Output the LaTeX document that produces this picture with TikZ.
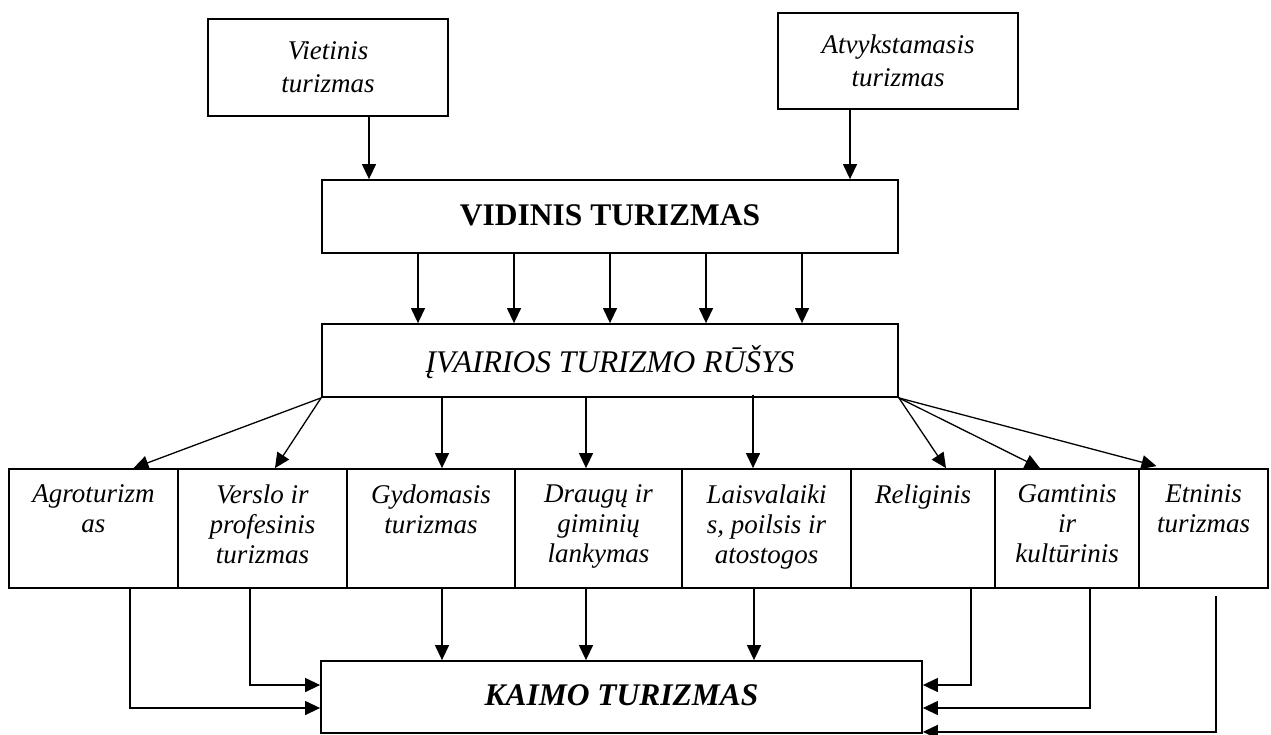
\documentclass[tikz,border=0pt]{standalone}
\usepackage{fontspec}
\setmainfont{Liberation Serif}
\usetikzlibrary{arrows.meta}
\tikzset{
  box/.style={draw,line width=1.8pt,inner sep=0pt},
  cell/.style={box,minimum height=119pt},
  celltext/.style={anchor=north,align=center,inner sep=0pt,font=\itshape\fontsize{27}{30}\selectfont},
  head/.style={box,minimum width=576pt,minimum height=73pt,text depth=0.3em,font=\fontsize{31.5}{36}\selectfont},
  arr/.style={line width=1.3pt,-{Triangle[length=15pt,width=14pt]}}
}
\begin{document}
\begin{tikzpicture}[x=1pt,y=-1pt]
\useasboundingbox (0,0) rectangle (1271,734);

% source boxes
\node[box,minimum width=240pt,minimum height=97pt,align=center,font=\itshape\fontsize{27}{33}\selectfont] (viet) at (328,67.5) {Vietinis\\turizmas};
\node[box,minimum width=240pt,minimum height=96pt,align=center,font=\itshape\fontsize{27}{33}\selectfont] (atvyk) at (898,61) {Atvykstamasis\\turizmas};

\node[head,font=\bfseries\fontsize{31.5}{36}\selectfont] (vidinis) at (610,216.5) {VIDINIS TURIZMAS};
\node[head,font=\itshape\fontsize{31.5}{36}\selectfont] (rusys) at (610,360.5) {ĮVAIRIOS TURIZMO RŪŠYS};

% kinds of tourism
\node[cell,minimum width=169pt] (agro) at (93.5,528.5) {};
\node[cell,minimum width=169pt] (verslo) at (262.5,528.5) {};
\node[cell,minimum width=168pt] (gydom) at (431,528.5) {};
\node[cell,minimum width=167pt] (draugu) at (598.5,528.5) {};
\node[cell,minimum width=169pt] (laisv) at (766.5,528.5) {};
\node[cell,minimum width=144pt] (relig) at (923,528.5) {};
\node[cell,minimum width=144pt] (gamt) at (1067,528.5) {};
\node[cell,minimum width=129pt] (etn) at (1203.5,528.5) {};

\node[celltext] (agrot) at ([yshift=-16pt]agro.north) {Agroturizm\\as};
\node[celltext] (verslot) at ([yshift=-16pt]verslo.north) {Verslo ir\\profesinis\\turizmas};
\node[celltext] (gydomt) at ([yshift=-16pt]gydom.north) {Gydomasis\\turizmas};
\node[celltext] (draugut) at ([yshift=-16pt]draugu.north) {Draugų ir\\giminių\\lankymas};
\node[celltext] (laisvt) at ([yshift=-16pt]laisv.north) {Laisvalaiki\\s, poilsis ir\\atostogos};
\node[celltext] (religt) at ([yshift=-16pt]relig.north) {Religinis};
\node[celltext] (gamtt) at ([yshift=-16pt]gamt.north) {Gamtinis\\ir\\kultūrinis};
\node[celltext] (etnt) at ([yshift=-16pt]etn.north) {Etninis\\turizmas};

\node[box,minimum width=601pt,minimum height=72pt,text depth=0.3em,font=\bfseries\itshape\fontsize{31.5}{36}\selectfont] (kaimo) at (621.5,697) {KAIMO TURIZMAS};

% top arrows
\draw[arr] ([xshift=41pt]viet.south) -- ([xshift=41pt]viet.south |- vidinis.north);
\draw[arr] ([xshift=-48pt]atvyk.south) -- ([xshift=-48pt]atvyk.south |- vidinis.north);
\foreach \dx in {-192,-96,0,96,192}
  \draw[arr] ([xshift=\dx pt]vidinis.south) -- ([xshift=\dx pt]rusys.north);

% fan out
\draw[arr] (rusys.south west) -- ([xshift=40pt]agro.north);
\draw[arr] (rusys.south west) -- ([xshift=12.5pt]verslo.north);
\draw[arr] ([xshift=11pt]gydom.north |- rusys.south) -- ([xshift=11pt]gydom.north);
\draw[arr] ([xshift=-12.5pt]draugu.north |- rusys.south) -- ([xshift=-12.5pt]draugu.north);
\draw[arr] ([xshift=-13.5pt,yshift=3pt]laisv.north |- rusys.south) -- ([xshift=-13.5pt]laisv.north);
\draw[arr] (rusys.south east) -- ([xshift=23pt]relig.north);
\draw[arr] (rusys.south east) -- ([xshift=-27pt]gamt.north);
\draw[arr] (rusys.south east) -- ([xshift=-47pt,yshift=2pt]etn.north);

% into rural tourism
\draw[arr] ([xshift=36.5pt]agro.south) |- ([yshift=-11pt]kaimo.west);
\draw[arr] ([xshift=-12.5pt]verslo.south) |- ([yshift=12pt]kaimo.west);
\draw[arr] ([xshift=11pt]gydom.south) -- ([xshift=11pt]gydom.south |- kaimo.north);
\draw[arr] ([xshift=-12.5pt]draugu.south) -- ([xshift=-12.5pt]draugu.south |- kaimo.north);
\draw[arr] ([xshift=-12.5pt]laisv.south) -- ([xshift=-12.5pt]laisv.south |- kaimo.north);
\draw[arr] ([xshift=48pt]relig.south) |- ([yshift=12pt]kaimo.east);
\draw[arr] ([xshift=23pt]gamt.south) |- ([yshift=-11pt]kaimo.east);
\draw[arr] ([xshift=12.5pt,yshift=-7pt]etn.south) |- ([yshift=2pt]kaimo.south east);
\end{tikzpicture}
\end{document}
